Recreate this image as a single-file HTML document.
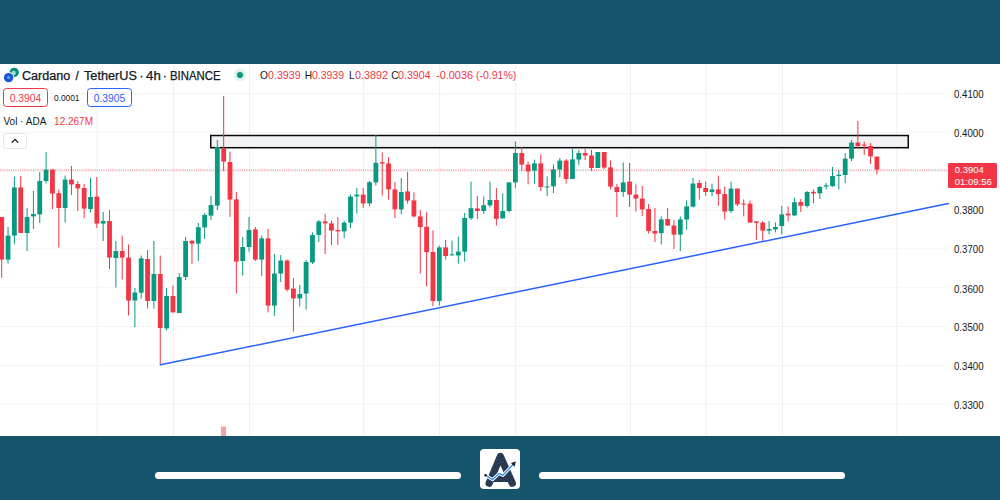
<!DOCTYPE html>
<html><head><meta charset="utf-8"><title>ADAUSDT</title>
<style>
html,body{margin:0;padding:0;}
body{width:1000px;height:500px;overflow:hidden;background:#fff;position:relative;font-family:"Liberation Sans",sans-serif;color:#131722;}
.top{position:absolute;left:0;top:0;width:1000px;height:64px;background:#15546b;}
.bot{position:absolute;left:0;top:436px;width:1000px;height:64px;background:#15546b;}
.chart{position:absolute;left:0;top:0;}
.pill{position:absolute;top:472px;height:7px;border-radius:4px;background:#fff;}
.logo{position:absolute;left:480px;top:448.5px;width:40px;height:40.5px;border-radius:4px;background:#fff;}
.t{position:absolute;white-space:nowrap;line-height:1;}
.ttl{color:#131722;-webkit-text-stroke:0.25px #131722;}
.ohlc{top:70px;font-size:10.5px;}
.red{color:#f23645;}
.box{position:absolute;top:88.3px;height:17.2px;border-radius:3.5px;border:1px solid;font-size:10.3px;line-height:19.4px;text-align:center;}
.pl{position:absolute;left:954.3px;font-size:10px;line-height:11px;transform-origin:0 50%;transform:scaleX(0.965);color:#131722;white-space:nowrap;}
.plab{position:absolute;left:948.2px;top:163.2px;width:48.8px;height:25.2px;background:#f23645;border-radius:1.5px;color:#fff;font-size:9.5px;}
</style></head><body>
<svg class="chart" width="1000" height="500" viewBox="0 0 1000 500"><g stroke="#f4f4f5" stroke-width="1"><line x1="0" y1="93.5" x2="947" y2="93.5"/><line x1="0" y1="132.3" x2="947" y2="132.3"/><line x1="0" y1="171.2" x2="947" y2="171.2"/><line x1="0" y1="210.1" x2="947" y2="210.1"/><line x1="0" y1="248.9" x2="947" y2="248.9"/><line x1="0" y1="287.8" x2="947" y2="287.8"/><line x1="0" y1="326.6" x2="947" y2="326.6"/><line x1="0" y1="365.4" x2="947" y2="365.4"/><line x1="0" y1="404.3" x2="947" y2="404.3"/></g><g stroke="#efeff0" stroke-width="1"><line x1="97.2" y1="64" x2="97.2" y2="436"/><line x1="173.4" y1="64" x2="173.4" y2="436"/><line x1="249.6" y1="64" x2="249.6" y2="436"/><line x1="363.6" y1="64" x2="363.6" y2="436"/><line x1="439.6" y1="64" x2="439.6" y2="436"/><line x1="515.6" y1="64" x2="515.6" y2="436"/><line x1="630.4" y1="64" x2="630.4" y2="436"/><line x1="706.0" y1="64" x2="706.0" y2="436"/><line x1="782.4" y1="64" x2="782.4" y2="436"/><line x1="896.8" y1="64" x2="896.8" y2="436"/></g><rect x="221" y="426.5" width="5" height="10" fill="#f7a1a7"/><rect x="210.75" y="135.5" width="697.5" height="12.2" fill="#f1f2f4" stroke="#0a0a0a" stroke-width="1.5"/><line x1="0" y1="170.1" x2="948" y2="170.1" stroke="#f23645" stroke-width="1" stroke-dasharray="1 1.2" opacity="0.75"/><g stroke="#089981" stroke-width="1"><line x1="8.04" y1="227.0" x2="8.04" y2="263.6"/><line x1="14.38" y1="176.6" x2="14.38" y2="244.4"/><line x1="27.07" y1="208.0" x2="27.07" y2="251.0"/><line x1="33.41" y1="191.0" x2="33.41" y2="229.0"/><line x1="39.75" y1="172.0" x2="39.75" y2="223.0"/><line x1="46.09" y1="152.0" x2="46.09" y2="183.6"/><line x1="65.12" y1="175.6" x2="65.12" y2="222.4"/><line x1="90.49" y1="178.0" x2="90.49" y2="212.4"/><line x1="103.17" y1="212.0" x2="103.17" y2="241.0"/><line x1="115.86" y1="241.0" x2="115.86" y2="287.6"/><line x1="134.88" y1="288.0" x2="134.88" y2="327.0"/><line x1="141.22" y1="255.6" x2="141.22" y2="298.5"/><line x1="153.91" y1="241.0" x2="153.91" y2="308.6"/><line x1="166.59" y1="288.0" x2="166.59" y2="330.6"/><line x1="179.28" y1="273.0" x2="179.28" y2="313.0"/><line x1="185.62" y1="237.0" x2="185.62" y2="280.0"/><line x1="198.30" y1="223.0" x2="198.30" y2="261.0"/><line x1="204.64" y1="213.0" x2="204.64" y2="239.0"/><line x1="210.99" y1="196.0" x2="210.99" y2="220.0"/><line x1="217.33" y1="140.0" x2="217.33" y2="210.0"/><line x1="242.70" y1="237.0" x2="242.70" y2="275.6"/><line x1="249.04" y1="217.0" x2="249.04" y2="251.6"/><line x1="261.72" y1="235.6" x2="261.72" y2="275.8"/><line x1="274.41" y1="254.0" x2="274.41" y2="315.8"/><line x1="280.75" y1="255.0" x2="280.75" y2="282.0"/><line x1="299.77" y1="285.0" x2="299.77" y2="306.4"/><line x1="306.12" y1="260.0" x2="306.12" y2="309.6"/><line x1="312.46" y1="232.4" x2="312.46" y2="264.0"/><line x1="318.80" y1="220.0" x2="318.80" y2="242.0"/><line x1="344.17" y1="221.0" x2="344.17" y2="238.0"/><line x1="350.51" y1="194.4" x2="350.51" y2="228.0"/><line x1="356.85" y1="188.0" x2="356.85" y2="213.6"/><line x1="369.54" y1="181.0" x2="369.54" y2="206.0"/><line x1="375.88" y1="135.0" x2="375.88" y2="185.6"/><line x1="401.25" y1="178.0" x2="401.25" y2="214.4"/><line x1="439.30" y1="245.6" x2="439.30" y2="305.6"/><line x1="451.98" y1="240.6" x2="451.98" y2="255.4"/><line x1="458.32" y1="236.6" x2="458.32" y2="263.6"/><line x1="464.67" y1="213.0" x2="464.67" y2="261.6"/><line x1="471.01" y1="181.6" x2="471.01" y2="220.0"/><line x1="483.69" y1="196.6" x2="483.69" y2="214.0"/><line x1="490.03" y1="181.6" x2="490.03" y2="207.5"/><line x1="502.72" y1="193.4" x2="502.72" y2="218.4"/><line x1="509.06" y1="182.4" x2="509.06" y2="212.4"/><line x1="515.40" y1="141.6" x2="515.40" y2="188.0"/><line x1="534.43" y1="159.6" x2="534.43" y2="183.6"/><line x1="547.11" y1="176.4" x2="547.11" y2="196.0"/><line x1="553.45" y1="164.4" x2="553.45" y2="193.0"/><line x1="559.80" y1="158.0" x2="559.80" y2="177.4"/><line x1="572.48" y1="149.0" x2="572.48" y2="179.0"/><line x1="578.82" y1="150.0" x2="578.82" y2="165.0"/><line x1="597.85" y1="152.0" x2="597.85" y2="168.0"/><line x1="623.22" y1="162.4" x2="623.22" y2="196.8"/><line x1="661.27" y1="216.4" x2="661.27" y2="244.4"/><line x1="680.29" y1="216.4" x2="680.29" y2="251.0"/><line x1="686.64" y1="200.4" x2="686.64" y2="229.6"/><line x1="692.98" y1="178.0" x2="692.98" y2="207.6"/><line x1="712.00" y1="183.6" x2="712.00" y2="196.4"/><line x1="731.03" y1="181.6" x2="731.03" y2="213.0"/><line x1="769.08" y1="221.0" x2="769.08" y2="234.4"/><line x1="775.42" y1="222.4" x2="775.42" y2="232.4"/><line x1="781.77" y1="206.0" x2="781.77" y2="234.4"/><line x1="794.45" y1="197.6" x2="794.45" y2="216.0"/><line x1="807.13" y1="191.0" x2="807.13" y2="207.6"/><line x1="819.82" y1="186.0" x2="819.82" y2="199.0"/><line x1="826.16" y1="183.0" x2="826.16" y2="189.4"/><line x1="832.50" y1="167.0" x2="832.50" y2="186.6"/><line x1="838.84" y1="170.0" x2="838.84" y2="189.5"/><line x1="845.19" y1="153.0" x2="845.19" y2="183.0"/><line x1="851.53" y1="140.0" x2="851.53" y2="161.0"/></g><g stroke="#f23645" stroke-width="1"><line x1="1.70" y1="217.0" x2="1.70" y2="278.0"/><line x1="20.73" y1="176.0" x2="20.73" y2="233.0"/><line x1="52.44" y1="169.0" x2="52.44" y2="209.0"/><line x1="58.78" y1="189.6" x2="58.78" y2="247.6"/><line x1="71.46" y1="166.0" x2="71.46" y2="195.0"/><line x1="77.80" y1="181.0" x2="77.80" y2="211.0"/><line x1="84.15" y1="184.0" x2="84.15" y2="218.0"/><line x1="96.83" y1="177.0" x2="96.83" y2="228.0"/><line x1="109.51" y1="210.0" x2="109.51" y2="269.0"/><line x1="122.20" y1="235.6" x2="122.20" y2="279.6"/><line x1="128.54" y1="244.4" x2="128.54" y2="315.5"/><line x1="147.57" y1="250.0" x2="147.57" y2="308.6"/><line x1="160.25" y1="255.6" x2="160.25" y2="364.5"/><line x1="172.93" y1="285.6" x2="172.93" y2="312.4"/><line x1="191.96" y1="240.0" x2="191.96" y2="264.0"/><line x1="223.67" y1="96.0" x2="223.67" y2="171.0"/><line x1="230.01" y1="151.6" x2="230.01" y2="217.0"/><line x1="236.35" y1="192.0" x2="236.35" y2="293.6"/><line x1="255.38" y1="227.0" x2="255.38" y2="261.0"/><line x1="268.06" y1="229.0" x2="268.06" y2="312.4"/><line x1="287.09" y1="259.6" x2="287.09" y2="291.6"/><line x1="293.43" y1="278.0" x2="293.43" y2="331.6"/><line x1="325.14" y1="214.0" x2="325.14" y2="254.0"/><line x1="331.48" y1="220.6" x2="331.48" y2="245.0"/><line x1="337.83" y1="217.0" x2="337.83" y2="245.0"/><line x1="363.19" y1="188.0" x2="363.19" y2="208.0"/><line x1="382.22" y1="152.4" x2="382.22" y2="195.6"/><line x1="388.56" y1="157.0" x2="388.56" y2="199.6"/><line x1="394.90" y1="182.0" x2="394.90" y2="218.0"/><line x1="407.59" y1="172.0" x2="407.59" y2="203.6"/><line x1="413.93" y1="192.4" x2="413.93" y2="217.4"/><line x1="420.27" y1="210.0" x2="420.27" y2="273.6"/><line x1="426.61" y1="212.0" x2="426.61" y2="286.4"/><line x1="432.96" y1="230.4" x2="432.96" y2="306.4"/><line x1="445.64" y1="240.0" x2="445.64" y2="259.6"/><line x1="477.35" y1="196.0" x2="477.35" y2="219.0"/><line x1="496.38" y1="188.0" x2="496.38" y2="225.6"/><line x1="521.74" y1="147.0" x2="521.74" y2="171.0"/><line x1="528.09" y1="161.6" x2="528.09" y2="184.4"/><line x1="540.77" y1="154.4" x2="540.77" y2="191.0"/><line x1="566.14" y1="159.0" x2="566.14" y2="183.6"/><line x1="585.16" y1="149.0" x2="585.16" y2="160.0"/><line x1="591.51" y1="150.0" x2="591.51" y2="171.0"/><line x1="604.19" y1="152.0" x2="604.19" y2="169.0"/><line x1="610.53" y1="160.4" x2="610.53" y2="189.4"/><line x1="616.87" y1="184.0" x2="616.87" y2="217.0"/><line x1="629.56" y1="163.0" x2="629.56" y2="207.0"/><line x1="635.90" y1="184.4" x2="635.90" y2="211.6"/><line x1="642.24" y1="186.0" x2="642.24" y2="216.0"/><line x1="648.58" y1="204.0" x2="648.58" y2="233.6"/><line x1="654.93" y1="208.0" x2="654.93" y2="242.0"/><line x1="667.61" y1="208.0" x2="667.61" y2="225.6"/><line x1="673.95" y1="220.0" x2="673.95" y2="249.0"/><line x1="699.32" y1="180.0" x2="699.32" y2="199.6"/><line x1="705.66" y1="181.6" x2="705.66" y2="196.0"/><line x1="718.35" y1="175.6" x2="718.35" y2="206.0"/><line x1="724.69" y1="186.6" x2="724.69" y2="219.6"/><line x1="737.37" y1="188.6" x2="737.37" y2="206.0"/><line x1="743.71" y1="199.4" x2="743.71" y2="216.4"/><line x1="750.06" y1="200.4" x2="750.06" y2="222.6"/><line x1="756.40" y1="221.0" x2="756.40" y2="240.0"/><line x1="762.74" y1="221.0" x2="762.74" y2="242.0"/><line x1="788.11" y1="206.6" x2="788.11" y2="221.4"/><line x1="800.79" y1="199.0" x2="800.79" y2="212.0"/><line x1="813.48" y1="189.4" x2="813.48" y2="203.3"/><line x1="857.87" y1="121.0" x2="857.87" y2="149.0"/><line x1="864.21" y1="141.6" x2="864.21" y2="155.0"/><line x1="870.55" y1="143.0" x2="870.55" y2="164.0"/><line x1="876.90" y1="156.6" x2="876.90" y2="174.4"/></g><g fill="#089981"><rect x="5.64" y="235.6" width="4.8" height="24.0"/><rect x="11.98" y="187.4" width="4.8" height="48.2"/><rect x="24.67" y="217.0" width="4.8" height="16.0"/><rect x="31.01" y="214.0" width="4.8" height="2.4"/><rect x="37.35" y="181.0" width="4.8" height="33.4"/><rect x="43.69" y="169.6" width="4.8" height="11.4"/><rect x="62.72" y="179.6" width="4.8" height="28.4"/><rect x="88.09" y="197.0" width="4.8" height="12.0"/><rect x="100.77" y="221.0" width="4.8" height="2.6"/><rect x="113.46" y="251.0" width="4.8" height="7.0"/><rect x="132.48" y="292.5" width="4.8" height="8.0"/><rect x="138.82" y="258.4" width="4.8" height="34.3"/><rect x="151.51" y="274.0" width="4.8" height="27.0"/><rect x="164.19" y="296.0" width="4.8" height="32.4"/><rect x="176.88" y="277.0" width="4.8" height="36.0"/><rect x="183.22" y="241.0" width="4.8" height="36.0"/><rect x="195.90" y="227.2" width="4.8" height="16.4"/><rect x="202.24" y="215.0" width="4.8" height="12.4"/><rect x="208.59" y="205.0" width="4.8" height="10.6"/><rect x="214.93" y="147.0" width="4.8" height="58.6"/><rect x="240.30" y="247.0" width="4.8" height="14.0"/><rect x="246.64" y="230.0" width="4.8" height="17.0"/><rect x="259.32" y="238.4" width="4.8" height="21.2"/><rect x="272.01" y="273.6" width="4.8" height="32.0"/><rect x="278.35" y="260.5" width="4.8" height="13.1"/><rect x="297.37" y="294.0" width="4.8" height="4.4"/><rect x="303.72" y="262.0" width="4.8" height="31.6"/><rect x="310.06" y="235.0" width="4.8" height="27.4"/><rect x="316.40" y="221.4" width="4.8" height="13.6"/><rect x="341.77" y="222.6" width="4.8" height="8.8"/><rect x="348.11" y="196.6" width="4.8" height="26.0"/><rect x="354.45" y="194.6" width="4.8" height="1.8"/><rect x="367.14" y="182.2" width="4.8" height="21.2"/><rect x="373.48" y="162.8" width="4.8" height="19.6"/><rect x="398.85" y="192.0" width="4.8" height="17.4"/><rect x="436.90" y="247.4" width="4.8" height="53.6"/><rect x="449.58" y="254.4" width="4.8" height="1.0"/><rect x="455.92" y="251.6" width="4.8" height="3.8"/><rect x="462.27" y="218.0" width="4.8" height="33.6"/><rect x="468.61" y="208.2" width="4.8" height="10.0"/><rect x="481.29" y="205.2" width="4.8" height="5.8"/><rect x="487.63" y="200.0" width="4.8" height="5.4"/><rect x="500.32" y="211.0" width="4.8" height="7.4"/><rect x="506.66" y="182.4" width="4.8" height="28.6"/><rect x="513.00" y="153.0" width="4.8" height="29.4"/><rect x="532.03" y="163.4" width="4.8" height="7.2"/><rect x="544.71" y="186.4" width="4.8" height="1.0"/><rect x="551.05" y="169.4" width="4.8" height="17.0"/><rect x="557.40" y="160.6" width="4.8" height="8.8"/><rect x="570.08" y="159.4" width="4.8" height="19.6"/><rect x="576.42" y="153.0" width="4.8" height="6.6"/><rect x="595.45" y="152.0" width="4.8" height="16.0"/><rect x="620.82" y="182.4" width="4.8" height="9.6"/><rect x="658.87" y="219.4" width="4.8" height="13.6"/><rect x="677.89" y="219.4" width="4.8" height="15.2"/><rect x="684.24" y="206.4" width="4.8" height="13.0"/><rect x="690.58" y="183.6" width="4.8" height="23.0"/><rect x="709.60" y="189.4" width="4.8" height="2.6"/><rect x="728.63" y="188.6" width="4.8" height="22.4"/><rect x="766.68" y="229.0" width="4.8" height="1.6"/><rect x="773.02" y="227.0" width="4.8" height="2.4"/><rect x="779.37" y="214.4" width="4.8" height="11.6"/><rect x="792.05" y="202.2" width="4.8" height="13.2"/><rect x="804.73" y="192.0" width="4.8" height="14.0"/><rect x="817.42" y="187.0" width="4.8" height="6.4"/><rect x="823.76" y="185.4" width="4.8" height="1.2"/><rect x="830.10" y="176.0" width="4.8" height="10.2"/><rect x="836.44" y="174.8" width="4.8" height="1.2"/><rect x="842.79" y="158.6" width="4.8" height="16.4"/><rect x="849.13" y="142.6" width="4.8" height="16.0"/></g><g fill="#f23645"><rect x="-0.70" y="217.0" width="4.8" height="42.6"/><rect x="18.33" y="187.4" width="4.8" height="45.6"/><rect x="50.04" y="169.6" width="4.8" height="24.0"/><rect x="56.38" y="193.2" width="4.8" height="14.8"/><rect x="69.06" y="179.6" width="4.8" height="4.8"/><rect x="75.40" y="184.0" width="4.8" height="4.4"/><rect x="81.75" y="188.0" width="4.8" height="20.6"/><rect x="94.43" y="196.6" width="4.8" height="27.0"/><rect x="107.11" y="221.0" width="4.8" height="36.6"/><rect x="119.80" y="251.0" width="4.8" height="6.6"/><rect x="126.14" y="257.6" width="4.8" height="43.0"/><rect x="145.17" y="259.0" width="4.8" height="42.0"/><rect x="157.85" y="274.0" width="4.8" height="54.0"/><rect x="170.53" y="296.0" width="4.8" height="16.4"/><rect x="189.56" y="240.8" width="4.8" height="2.8"/><rect x="221.27" y="148.0" width="4.8" height="13.6"/><rect x="227.61" y="162.0" width="4.8" height="37.6"/><rect x="233.95" y="199.4" width="4.8" height="62.2"/><rect x="252.98" y="229.4" width="4.8" height="30.2"/><rect x="265.66" y="238.4" width="4.8" height="67.2"/><rect x="284.69" y="260.5" width="4.8" height="29.1"/><rect x="291.03" y="288.6" width="4.8" height="9.8"/><rect x="322.74" y="221.4" width="4.8" height="2.0"/><rect x="329.08" y="223.4" width="4.8" height="7.2"/><rect x="335.43" y="230.0" width="4.8" height="1.4"/><rect x="360.79" y="194.6" width="4.8" height="8.8"/><rect x="379.82" y="162.2" width="4.8" height="1.4"/><rect x="386.16" y="163.5" width="4.8" height="25.9"/><rect x="392.50" y="189.4" width="4.8" height="20.0"/><rect x="405.19" y="191.4" width="4.8" height="9.2"/><rect x="411.53" y="200.4" width="4.8" height="16.0"/><rect x="417.87" y="216.4" width="4.8" height="10.6"/><rect x="424.21" y="226.8" width="4.8" height="25.4"/><rect x="430.56" y="252.0" width="4.8" height="49.0"/><rect x="443.24" y="247.4" width="4.8" height="8.6"/><rect x="474.95" y="208.4" width="4.8" height="2.6"/><rect x="493.98" y="200.0" width="4.8" height="18.8"/><rect x="519.34" y="153.0" width="4.8" height="11.6"/><rect x="525.69" y="164.6" width="4.8" height="6.8"/><rect x="538.37" y="163.4" width="4.8" height="23.6"/><rect x="563.74" y="160.6" width="4.8" height="18.4"/><rect x="582.76" y="153.0" width="4.8" height="2.6"/><rect x="589.11" y="155.4" width="4.8" height="12.6"/><rect x="601.79" y="152.0" width="4.8" height="15.6"/><rect x="608.13" y="167.4" width="4.8" height="19.2"/><rect x="614.47" y="187.0" width="4.8" height="5.0"/><rect x="627.16" y="181.6" width="4.8" height="13.0"/><rect x="633.50" y="194.6" width="4.8" height="4.0"/><rect x="639.84" y="198.6" width="4.8" height="10.8"/><rect x="646.18" y="209.0" width="4.8" height="22.0"/><rect x="652.53" y="231.0" width="4.8" height="2.6"/><rect x="665.21" y="219.0" width="4.8" height="6.6"/><rect x="671.55" y="225.6" width="4.8" height="9.0"/><rect x="696.92" y="183.0" width="4.8" height="5.0"/><rect x="703.26" y="188.0" width="4.8" height="4.0"/><rect x="715.95" y="189.4" width="4.8" height="4.6"/><rect x="722.29" y="194.0" width="4.8" height="17.6"/><rect x="734.97" y="188.6" width="4.8" height="15.8"/><rect x="741.31" y="203.6" width="4.8" height="1.0"/><rect x="747.66" y="203.6" width="4.8" height="19.0"/><rect x="754.00" y="221.4" width="4.8" height="1.4"/><rect x="760.34" y="222.6" width="4.8" height="8.0"/><rect x="785.71" y="213.6" width="4.8" height="1.8"/><rect x="798.39" y="202.0" width="4.8" height="3.8"/><rect x="811.08" y="191.8" width="4.8" height="1.6"/><rect x="855.47" y="142.6" width="4.8" height="3.4"/><rect x="861.81" y="144.6" width="4.8" height="1.0"/><rect x="868.15" y="146.0" width="4.8" height="10.4"/><rect x="874.50" y="156.6" width="4.8" height="13.0"/></g><line x1="160.4" y1="364.8" x2="948.4" y2="203.6" stroke="#2962ff" stroke-width="1.5" stroke-linecap="round"/></svg>
<div class="top"></div><div class="bot"></div>
<div class="pill" style="left:155px;width:306px"></div>
<div class="pill" style="left:539px;width:306px"></div>
<div class="logo"><svg width="40" height="40.5" viewBox="0 0 40 40.5">
<defs><pattern id="sp" width="3.2" height="3.2" patternUnits="userSpaceOnUse" patternTransform="rotate(28)"><rect width="3.2" height="3.2" fill="#27344a"/><circle cx="0.9" cy="0.9" r="0.45" fill="#3f79b8"/><circle cx="2.4" cy="2.3" r="0.35" fill="#55606f"/></pattern></defs>
<path d="M9.1 34.3 L20.4 7.4 L32.3 34.3 M13.5 29.3 L27.8 29.3" fill="none" stroke="url(#sp)" stroke-width="7.2" stroke-linecap="round" stroke-linejoin="round"/>
<path d="M21 19.6 L24 26.2 L18 26.2 Z" fill="#fff"/>
<path d="M5.6 26.3 L12.6 30.6 L19.2 24.4 L22.8 26.4 L33.4 15.2" fill="none" stroke="#fff" stroke-width="3.2" stroke-linejoin="round"/>
<path d="M5.6 26.3 L12.6 30.6 L19.2 24.4 L22.8 26.4 L33.4 15.2" fill="none" stroke="#2e8de0" stroke-width="1.3" stroke-linejoin="round"/>
<circle cx="5.6" cy="26.3" r="1.3" fill="#111"/>
<path d="M35.9 12.6 L30.9 14 L34.6 17.7 Z" fill="#1b2433"/>
</svg></div>

<!-- header -->
<svg class="chart" width="30" height="20" style="left:0;top:64px" viewBox="0 64 30 20"><circle cx="14.2" cy="72.4" r="4.7" fill="#0b8f7d"/><circle cx="13.6" cy="73" r="2.3" fill="#9fdcd0"/><circle cx="8.6" cy="77.6" r="5.5" fill="#fff"/><circle cx="8.6" cy="77.6" r="4.7" fill="#1857d8"/><circle cx="8.6" cy="77.6" r="1.5" fill="#6f9ff0"/></svg>
<div class="t ttl" style="left:21.86px;top:69.8px;font-size:12px;transform-origin:0 50%;transform:scaleX(1.0467);">Cardano</div>
<div class="t ttl" style="left:75.38px;top:69.8px;font-size:12px;">/</div>
<div class="t ttl" style="left:83.96px;top:69.8px;font-size:12px;transform-origin:0 50%;transform:scaleX(1.0569);">TetherUS</div>
<div class="t ttl" style="left:139.50px;top:69.8px;font-size:12px;">·</div>
<div class="t ttl" style="left:145.56px;top:69.8px;font-size:12px;transform-origin:0 50%;transform:scaleX(1.1063);">4h</div>
<div class="t ttl" style="left:162.80px;top:69.8px;font-size:12px;">·</div>
<div class="t ttl" style="left:170.06px;top:69.8px;font-size:12px;transform-origin:0 50%;transform:scaleX(0.9463);">BINANCE</div>
<svg class="chart" width="16" height="16" style="left:232px;top:66.8px"><circle cx="8" cy="8" r="6.2" fill="#e0f3ef"/><circle cx="8" cy="8" r="3.1" fill="#089981"/></svg>
<div class="t " style="left:260.08px;top:70.6px;font-size:10.2px;">O</div>
<div class="t red" style="left:267.89px;top:70.6px;font-size:10.2px;transform-origin:0 50%;transform:scaleX(1.0467);">0.3939</div>
<div class="t " style="left:304.67px;top:70.6px;font-size:10.2px;">H</div>
<div class="t red" style="left:312.19px;top:70.6px;font-size:10.2px;transform-origin:0 50%;transform:scaleX(1.0275);">0.3939</div>
<div class="t " style="left:349.11px;top:70.6px;font-size:10.2px;">L</div>
<div class="t red" style="left:354.79px;top:70.6px;font-size:10.2px;transform-origin:0 50%;transform:scaleX(1.0563);">0.3892</div>
<div class="t " style="left:391.32px;top:70.6px;font-size:10.2px;">C</div>
<div class="t red" style="left:398.39px;top:70.6px;font-size:10.2px;transform-origin:0 50%;transform:scaleX(1.0467);">0.3904</div>
<div class="t red" style="left:436.29px;top:70.6px;font-size:10.2px;transform-origin:0 50%;transform:scaleX(1.0742);">-0.0036</div>
<div class="t red" style="left:476.29px;top:70.6px;font-size:10.2px;transform-origin:0 50%;transform:scaleX(1.0320);">(-0.91%)</div>
<div class="box red" style="left:3.1px;width:42.8px;border-color:#f23645">0.3904</div>
<div class="t" style="left:53.9px;top:93.9px;font-size:8.4px">0.0001</div>
<div class="box" style="left:87.1px;width:42.8px;border-color:#2962ff;color:#2962ff">0.3905</div>
<div class="t" style="left:3.5px;top:116.9px;font-size:10px">Vol · ADA</div>
<div class="t red" style="left:54.1px;top:116.9px;font-size:10px">12.267M</div>
<div class="box" style="left:3.1px;top:132.7px;width:22.2px;height:14px;border-color:#e6e8ee;border-radius:3px"><svg width="22" height="13.5" viewBox="0 0 22 13.5" style="display:block"><path d="M7.8 8.6 L11 5.4 L14.2 8.6" fill="none" stroke="#131722" stroke-width="1.3"/></svg></div>

<div class="pl" style="top:89.4px">0.4100</div><div class="pl" style="top:128.0px">0.4000</div><div class="pl" style="top:205.2px">0.3800</div><div class="pl" style="top:244.1px">0.3700</div><div class="pl" style="top:283.5px">0.3600</div><div class="pl" style="top:322.0px">0.3500</div><div class="pl" style="top:361.4px">0.3400</div><div class="pl" style="top:399.9px">0.3300</div>
<div class="plab"><div class="t" style="left:6.6px;top:2px">0.3904</div><div class="t" style="left:6.6px;top:13.8px">01:09:56</div></div>
</body></html>
